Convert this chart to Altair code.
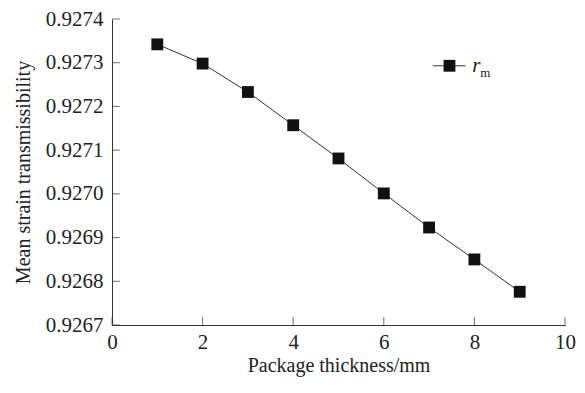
import altair as alt
import pandas as pd

thickness = [1, 2, 3, 4, 5, 6, 7, 8, 9]
r_m = [0.927342, 0.927298, 0.927233, 0.927157, 0.927081, 0.927001, 0.926923, 0.926850, 0.926776]
x_ticks = [0, 2, 4, 6, 8, 10]
y_ticks = [0.9267, 0.9268, 0.9269, 0.9270, 0.9271, 0.9272, 0.9273, 0.9274]

df = pd.DataFrame({"x": thickness, "y": r_m})
FONT = "Liberation Serif, Times New Roman, serif"

xs = alt.Scale(domain=[0, 10], nice=False)
ys = alt.Scale(domain=[0.9267, 0.9274], nice=False, zero=False)

base = alt.Chart(df).encode(
    x=alt.X("x:Q", scale=xs,
            axis=alt.Axis(values=x_ticks, title="Package thickness/mm", format="d",
                          grid=False, ticks=False, labelPadding=6, titlePadding=3,
                          labelFlush=False,
                          domainColor="#333", labelFont=FONT, titleFont=FONT,
                          labelFontSize=21, titleFontSize=20, labelColor="#222",
                          titleColor="#222", titleFontWeight="normal")),
    y=alt.Y("y:Q", scale=ys,
            axis=alt.Axis(values=y_ticks, title="Mean strain transmissibility", format=".4f",
                          grid=False, ticks=False, labelPadding=9, titlePadding=12,
                          labelFlush=False,
                          domainColor="#333", labelFont=FONT, titleFont=FONT,
                          labelFontSize=21, titleFontSize=20, labelColor="#222",
                          titleColor="#222", titleFontWeight="normal")),
)

line = base.mark_line(color="#333", strokeWidth=1)
pts = base.mark_square(color="#111", size=140, opacity=1)

xt = alt.Chart(pd.DataFrame({"x": x_ticks, "y": [0.9267] * len(x_ticks)})).mark_tick(
    orient="vertical", size=8, thickness=1, color="#333", yOffset=-4
).encode(x=alt.X("x:Q", scale=xs), y=alt.Y("y:Q", scale=ys))

yt = alt.Chart(pd.DataFrame({"y": y_ticks, "x": [0] * len(y_ticks)})).mark_tick(
    orient="horizontal", size=8, thickness=1, color="#333", xOffset=4
).encode(x=alt.X("x:Q", scale=xs), y=alt.Y("y:Q", scale=ys))

leg_line = alt.Chart(pd.DataFrame({"x": [7.08, 7.80], "y": [0.927293, 0.927293]})).mark_line(
    color="#333", strokeWidth=1
).encode(x=alt.X("x:Q", scale=xs), y=alt.Y("y:Q", scale=ys))
leg_pt = alt.Chart(pd.DataFrame({"x": [7.45], "y": [0.927293]})).mark_square(
    color="#111", size=140, opacity=1
).encode(x=alt.X("x:Q", scale=xs), y=alt.Y("y:Q", scale=ys))
leg_r = alt.Chart(pd.DataFrame({"x": [7.95], "y": [0.927293], "t": ["r"]})).mark_text(
    font=FONT, fontSize=21, fontStyle="italic", align="left", baseline="middle", color="#222"
).encode(x=alt.X("x:Q", scale=xs), y=alt.Y("y:Q", scale=ys), text="t:N")
leg_m = alt.Chart(pd.DataFrame({"x": [8.13], "y": [0.927293], "t": ["m"]})).mark_text(
    font=FONT, fontSize=13, align="left", baseline="middle", color="#222", dy=7
).encode(x=alt.X("x:Q", scale=xs), y=alt.Y("y:Q", scale=ys), text="t:N")

chart = alt.layer(line, pts, xt, yt, leg_line, leg_pt, leg_r, leg_m).properties(
    width=453, height=306, background="white",
    autosize=alt.AutoSizeParams(type="none"),
    padding={"left": 104, "right": 12, "top": 11, "bottom": 52},
).configure_view(stroke=None)

chart.save("out.html", embed_options={"renderer": "svg", "actions": False})
